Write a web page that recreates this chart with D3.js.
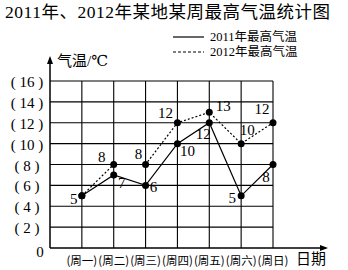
<!DOCTYPE html>
<html>
<head>
<meta charset="utf-8">
<script src="https://cdn.jsdelivr.net/npm/d3@7"></script>
<style>
  body { margin: 0; background: #fff; }
  text { fill: #000; }
</style>
</head>
<body>
<script>
// data
const days = ["周一", "周二", "周三", "周四", "周五", "周六", "周日"];
const temps2011 = [5, 7, 6, 10, 12, 5, 8];
const temps2012 = [5, 8, 8, 12, 13, 10, 12];
const yTicks = [2, 4, 6, 8, 10, 12, 14, 16];

// label offsets (layout only)
const off2011 = [[-8, 8], [8, 13], [8, 7], [10, 12], [-6, 16], [-9, 7], [-7, 17]];
const off2012 = [null, [-12, -3], [-7, -6], [-12, -5], [14, -1], [6, -9], [-11, -9]];

const SERIF = "'Liberation Serif', 'DejaVu Serif', 'Noto Sans CJK SC', serif";
const CJK = "'Noto Sans CJK SC', sans-serif";

const svg = d3.select("body").append("svg")
    .attr("width", 348)
    .attr("height", 270);

// scales
const x = d3.scaleLinear().domain([0, 7]).range([50, 273]);
const y = d3.scaleLinear().domain([0, 16]).range([248, 81]);

// title
svg.append("text")
    .attr("x", 5)
    .attr("y", 18)
    .attr("font-family", SERIF)
    .attr("font-size", 17.5)
    .attr("textLength", 325)
    .text("2011年、2012年某地某周最高气温统计图");

// grid
const grid = svg.append("g").attr("stroke", "#000").attr("stroke-width", 1.1);
yTicks.forEach(function(t) {
    grid.append("line")
        .attr("x1", x(0)).attr("x2", x(7))
        .attr("y1", y(t)).attr("y2", y(t));
});
d3.range(1, 8).forEach(function(i) {
    grid.append("line")
        .attr("x1", x(i)).attr("x2", x(i))
        .attr("y1", y(0)).attr("y2", y(16));
});

// axes with arrows
svg.append("line")
    .attr("x1", x(0)).attr("x2", x(0))
    .attr("y1", y(0)).attr("y2", 58)
    .attr("stroke", "#000").attr("stroke-width", 1.5);
svg.append("path")
    .attr("d", "M" + x(0) + ",56 l-3,8 l6,0 z");
svg.append("line")
    .attr("x1", x(0)).attr("x2", 326)
    .attr("y1", y(0)).attr("y2", y(0))
    .attr("stroke", "#000").attr("stroke-width", 1.5);
svg.append("path")
    .attr("d", "M328," + y(0) + " l-8,-3 l0,6 z");

// y labels
svg.selectAll(".ylab")
    .data(yTicks)
    .enter()
    .append("text")
    .attr("class", "ylab")
    .attr("x", 27)
    .attr("y", function(d) { return y(d) + 6; })
    .attr("text-anchor", "middle")
    .attr("font-family", SERIF)
    .attr("font-size", 15)
    .text(function(d) { return "( " + d + " )"; });
svg.append("text")
    .attr("x", 40).attr("y", 257)
    .attr("text-anchor", "middle")
    .attr("font-family", SERIF)
    .attr("font-size", 15)
    .text("0");

// x labels
svg.selectAll(".xlab")
    .data(days)
    .enter()
    .append("text")
    .attr("class", "xlab")
    .attr("x", function(d, i) { return x(i + 1); })
    .attr("y", 265)
    .attr("text-anchor", "middle")
    .attr("font-family", CJK)
    .attr("font-size", 11.5)
    .text(function(d) { return "(" + d + ")"; });
svg.append("text")
    .attr("x", 296).attr("y", 264)
    .attr("font-family", SERIF)
    .attr("font-size", 15)
    .text("日期");

// axis title
svg.append("text")
    .attr("x", 57).attr("y", 66)
    .attr("font-family", SERIF)
    .attr("font-size", 15)
    .text("气温/℃");

// legend
svg.append("line")
    .attr("x1", 173).attr("x2", 204).attr("y1", 37).attr("y2", 37)
    .attr("stroke", "#000").attr("stroke-width", 1.2);
svg.append("line")
    .attr("x1", 173).attr("x2", 204).attr("y1", 52).attr("y2", 52)
    .attr("stroke", "#000").attr("stroke-width", 1.2)
    .attr("stroke-dasharray", "3,2");
svg.append("text")
    .attr("x", 210).attr("y", 41)
    .attr("font-family", SERIF).attr("font-size", 12.5)
    .text("2011年最高气温");
svg.append("text")
    .attr("x", 210).attr("y", 56)
    .attr("font-family", SERIF).attr("font-size", 12.5)
    .text("2012年最高气温");

// lines
const line = d3.line()
    .x(function(d, i) { return x(i + 1); })
    .y(function(d) { return y(d); });

svg.append("path")
    .datum(temps2012)
    .attr("d", line)
    .attr("fill", "none")
    .attr("stroke", "#000")
    .attr("stroke-width", 1.2)
    .attr("stroke-dasharray", "2,2");
svg.append("path")
    .datum(temps2011)
    .attr("d", line)
    .attr("fill", "none")
    .attr("stroke", "#000")
    .attr("stroke-width", 1.2);

// dots and labels
[[temps2011, off2011], [temps2012, off2012]].forEach(function(s) {
    var pts = s[0].map(function(v, i) { return {v: v, i: i, off: s[1][i]}; });
    svg.selectAll(null)
        .data(pts)
        .enter()
        .append("circle")
        .attr("cx", function(d) { return x(d.i + 1); })
        .attr("cy", function(d) { return y(d.v); })
        .attr("r", 3.5)
        .attr("fill", "#000");
    svg.selectAll(null)
        .data(pts.filter(function(d) { return d.off !== null; }))
        .enter()
        .append("text")
        .attr("x", function(d) { return x(d.i + 1) + d.off[0]; })
        .attr("y", function(d) { return y(d.v) + d.off[1]; })
        .attr("text-anchor", "middle")
        .attr("font-family", SERIF)
        .attr("font-size", 15)
        .text(function(d) { return d.v; });
});
</script>
</body>
</html>
